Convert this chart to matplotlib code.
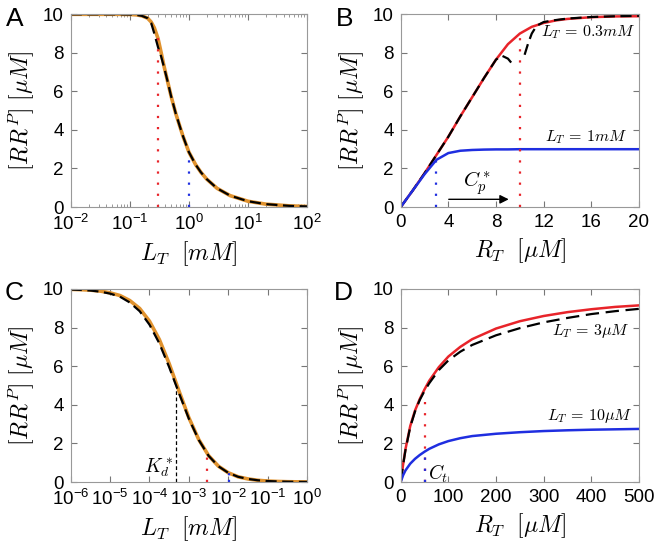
import matplotlib
matplotlib.use('Agg')
import matplotlib.pyplot as plt
import numpy as np
from matplotlib.ticker import FuncFormatter, LogLocator

plt.rcParams['font.family'] = ['Liberation Sans', 'DejaVu Sans']
plt.rcParams['mathtext.fontset'] = 'cm'

orange = '#e0922e'
red = '#e8242a'
blue = '#1f2ee0'

# panel A: RR^P vs L_T (mM), log x
a_x = [0.01, 0.03, 0.06, 0.1, 0.13, 0.16, 0.2, 0.23, 0.26, 0.3, 0.34, 0.38, 0.43, 0.5,
       0.6, 0.7, 0.8, 1.0, 1.3, 1.6, 2.0, 3.0, 5.0, 10, 20, 50, 100]
a_y = [10, 10, 10, 9.99, 9.97, 9.92, 9.8, 9.6, 9.3, 8.75, 8.0, 7.3, 6.6, 5.75,
       4.85, 4.2, 3.65, 2.85, 2.2, 1.8, 1.45, 0.97, 0.59, 0.3, 0.15, 0.06, 0.03]
a_yd = [10, 10, 10, 9.99, 9.97, 9.92, 9.8, 9.55, 9.0, 8.3, 7.8, 7.25, 6.6, 5.75,
        4.85, 4.2, 3.65, 2.85, 2.2, 1.8, 1.45, 0.97, 0.59, 0.3, 0.15, 0.06, 0.03]

# panel B: RR^P vs R_T (uM)
b_x = [0, 1, 2, 3, 4, 5, 6, 7, 8, 9, 10, 11, 12, 13, 14, 16, 18, 20]
b_red = [0, 0.85, 1.75, 2.7, 3.65, 4.7, 5.7, 6.7, 7.65, 8.45, 9.0, 9.35, 9.55, 9.68, 9.76, 9.85, 9.89, 9.9]
b_dx = [0, 1, 2, 3, 4, 5, 6, 7, 8, 8.5, 9.0, 9.4, np.nan, 10.4, 10.7, 11.0, 11.4, 12.0, 13, 14, 16, 18, 20]
b_dy = [0, 0.85, 1.75, 2.7, 3.65, 4.7, 5.7, 6.7, 7.65, 7.85, 7.7, 7.4, np.nan, 7.9, 8.5, 9.0, 9.4, 9.6, 9.7, 9.78, 9.86, 9.9, 9.92]
b_blue = [0, 0.85, 1.7, 2.45, 2.8, 2.92, 2.96, 2.98, 2.99, 2.99, 3.0, 3.0, 3.0, 3.0, 3.0, 3.0, 3.0, 3.0]

# panel C: RR^P vs L_T (mM), log x
c_x = [1e-6, 1.78e-6, 3.16e-6, 5.62e-6, 1e-5, 1.78e-5, 3.16e-5, 5.62e-5, 1e-4, 1.78e-4,
       3.16e-4, 5.62e-4, 1e-3, 1.78e-3, 3.16e-3, 5.62e-3, 1e-2, 1.78e-2, 3.16e-2, 5.62e-2,
       0.1, 0.178, 0.316, 0.562, 1.0]
c_y = [9.98, 9.965, 9.94, 9.89, 9.8, 9.66, 9.4, 8.99, 8.33, 7.38, 6.13, 4.71, 3.33, 2.2,
       1.37, 0.82, 0.48, 0.27, 0.16, 0.09, 0.05, 0.03, 0.016, 0.009, 0.005]
c_yd = [9.97, 9.95, 9.92, 9.86, 9.76, 9.6, 9.3, 8.85, 8.15, 7.18, 5.95, 4.6, 3.28, 2.18,
        1.36, 0.815, 0.476, 0.27, 0.16, 0.09, 0.05, 0.03, 0.016, 0.009, 0.005]

# panel D: RR^P vs R_T (uM)
d_x = [0, 5, 10, 20, 30, 40, 50, 60, 80, 100, 125, 150, 200, 250, 300, 350, 400, 450, 500]
d_red = [0, 0.9, 1.7, 2.9, 3.7, 4.3, 4.8, 5.25, 5.95, 6.5, 7.0, 7.4, 7.95, 8.33, 8.6, 8.8, 8.95, 9.07, 9.15]
d_dash = [0, 0.88, 1.65, 2.85, 3.65, 4.25, 4.72, 5.12, 5.8, 6.3, 6.75, 7.1, 7.6, 7.97, 8.27, 8.5, 8.7, 8.85, 8.97]
d_blue = [0, 0.35, 0.6, 0.95, 1.2, 1.4, 1.57, 1.72, 1.95, 2.12, 2.27, 2.38, 2.5, 2.58, 2.64, 2.68, 2.71, 2.73, 2.75]

dash = (0, (5, 2.5))
dot = (0, (1, 4))


def logfmt(v, pos):
    return r'$\mathregular{10^{%d}}$' % int(round(np.log10(v)))


def style(ax, letter):
    ax.set_ylim(0, 10)
    ax.set_yticks([0, 2, 4, 6, 8, 10])
    ax.tick_params(direction='in', top=True, right=True, labelsize=13.5, length=4, color='#777777', pad=5)
    ax.tick_params(which='minor', direction='in', top=True, right=True, length=2, color='#888888')
    for s in ax.spines.values():
        s.set_color('#999999')
        s.set_linewidth(0.8)
    ax.set_ylabel(r'$[RR^P]\ [\mu M]$', fontsize=17, labelpad=4)
    ax.text(-0.2, 1.04, letter, transform=ax.transAxes, fontsize=19, va='top', ha='right')


fig = plt.figure(figsize=(6.61, 5.5), dpi=100)
axA = fig.add_axes([0.107, 0.6236, 0.3575, 0.3504])
axB = fig.add_axes([0.6062, 0.6236, 0.3605, 0.3504])
axC = fig.add_axes([0.107, 0.1236, 0.3575, 0.351])
axD = fig.add_axes([0.6062, 0.1236, 0.3605, 0.351])

# A
axA.plot(a_x, a_y, color=orange, lw=2.6)
axA.plot(a_x, a_yd, color='black', lw=1.6, ls=dash)
axA.plot([0.3, 0.3], [0, 8.8], color=red, lw=1.6, ls=dot)
axA.plot([1.0, 1.0], [0, 2.8], color=blue, lw=1.6, ls=dot)
axA.set_xscale('log')
axA.set_xlim(1e-2, 1e2)
axA.xaxis.set_major_formatter(FuncFormatter(logfmt))
axA.set_xlabel(r'$L_T\ \ [mM]$', fontsize=17)
style(axA, 'A')

# B
axB.plot(b_x, b_red, color=red, lw=1.8)
axB.plot(b_dx, b_dy, color='black', lw=1.6, ls=dash)
axB.plot(b_x, b_blue, color=blue, lw=1.8)
axB.plot([10, 10], [0, 8.9], color=red, lw=1.6, ls=dot)
axB.plot([3, 3], [0, 2.4], color=blue, lw=1.6, ls=dot)
axB.annotate('', xy=(9.3, 0.4), xytext=(3.8, 0.4),
             arrowprops=dict(arrowstyle='-|>', color='black', lw=1.0, mutation_scale=13))
axB.text(6.4, 1.25, r'$C_p^*$', fontsize=15, ha='center', va='center')
axB.text(19.7, 9.05, r'$L_T\,=\,0.3mM$', fontsize=11.5, ha='right', va='center')
axB.text(19.0, 3.65, r'$L_T\,=\,1mM$', fontsize=11.5, ha='right', va='center')
axB.set_xlim(0, 20)
axB.set_xticks([0, 4, 8, 12, 16, 20])
axB.set_xlabel(r'$R_T\ \ [\mu M]$', fontsize=17)
style(axB, 'B')

# C
axC.plot(c_x, c_y, color=orange, lw=2.6)
axC.plot(c_x, c_yd, color='black', lw=1.6, ls=dash)
axC.plot([4.8e-4, 4.8e-4], [0, 4.8], color='black', lw=0.9, ls=(0, (3, 2)))
axC.plot([2.9e-3, 2.9e-3], [0, 1.5], color=red, lw=1.6, ls=dot)
axC.plot([1.05e-2, 1.05e-2], [0, 0.48], color=blue, lw=1.6, ls=(0, (1, 2)))
axC.text(4.0e-4, 0.75, r'$K_d^*$', fontsize=14, ha='right', va='center')
axC.set_xscale('log')
axC.set_xlim(1e-6, 1)
axC.xaxis.set_major_locator(LogLocator(base=10, numticks=10))
axC.xaxis.set_major_formatter(FuncFormatter(logfmt))
axC.set_xlabel(r'$L_T\ \ [mM]$', fontsize=17)
style(axC, 'C')

# D
axD.plot(d_x, d_red, color=red, lw=1.8)
axD.plot(d_x, d_dash, color='black', lw=1.6, ls=(0, (6, 3)))
axD.plot(d_x, d_blue, color=blue, lw=1.8)
axD.plot([50, 50], [0, 4.5], color=red, lw=1.6, ls=dot)
axD.plot([50, 50], [0, 1.3], color=blue, lw=1.6, ls=dot)
axD.text(58, 0.42, r'$C_t$', fontsize=14, ha='left', va='center')
axD.text(480, 7.8, r'$L_T\,=\,3\mu M$', fontsize=11.5, ha='right', va='center')
axD.text(486, 3.4, r'$L_T\,=\,10\mu M$', fontsize=11.5, ha='right', va='center')
axD.set_xlim(0, 500)
axD.set_xticks([0, 100, 200, 300, 400, 500])
axD.set_xlabel(r'$R_T\ \ [\mu M]$', fontsize=17)
style(axD, 'D')

fig.savefig('out.png', dpi=100)
